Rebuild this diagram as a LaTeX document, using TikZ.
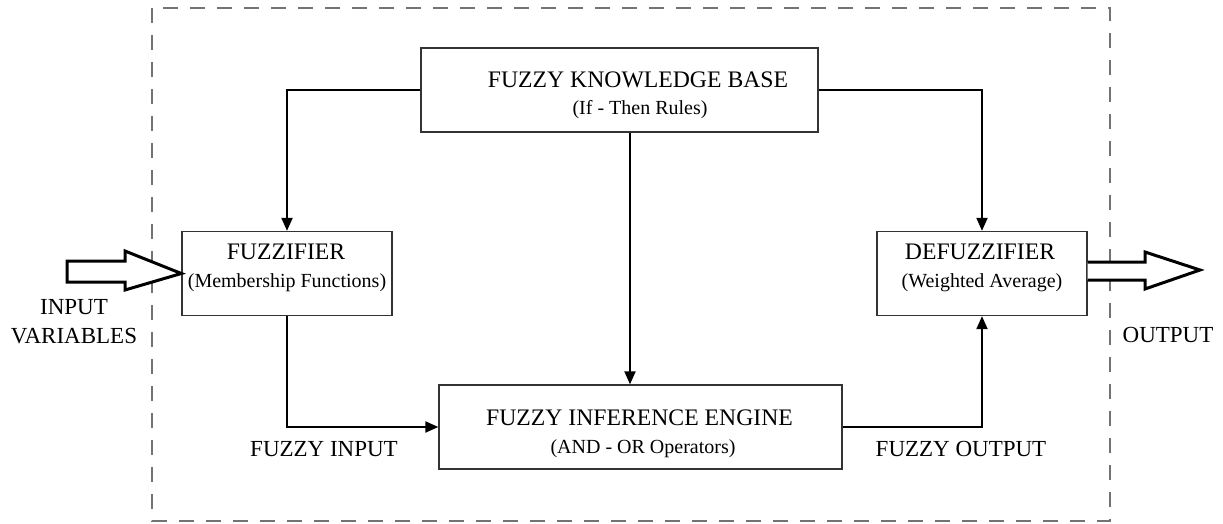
\documentclass[tikz,border=0pt]{standalone}
\usepackage{fontspec}
\setmainfont{Liberation Serif}
\usetikzlibrary{arrows.meta,calc}
\tikzset{
  blk/.style={draw=black!80, line width=1.3pt, fill=white, minimum height=84pt, inner sep=0pt},
  ttl/.style={font=\fontsize{23.7}{29}\selectfont, inner sep=0pt},
  sub/.style={font=\fontsize{20}{24}\selectfont, inner sep=0pt},
  conn/.style={line width=2pt, -{Triangle[length=13pt,width=11pt]}},
  bigarrow/.style={draw=black, line width=3pt, fill=white, line join=miter},
  lbl/.style={font=\fontsize{23}{29}\selectfont, align=center, inner sep=0pt},
  frame/.style={draw=black!55, line width=2pt, dash pattern=on 15pt off 12pt}
}
\begin{document}
\begin{tikzpicture}[x=1pt,y=-1pt]
\useasboundingbox (0,0) rectangle (1223,524);
\draw[frame] (152,8) rectangle (1110,521);

\node[blk, minimum width=397pt] (kb) at (619.5,90) {};
\node[blk, minimum width=210pt] (fz) at (287,273.5) {};
\node[blk, minimum width=210pt] (dz) at (982,273.5) {};
\node[blk, minimum width=403pt] (inf) at (640.5,427) {};

\node[ttl] (kbt) at (638,80) {FUZZY KNOWLEDGE BASE};
\node[sub] (kbs) at (640,110) {(If - Then Rules)};
\node[ttl] (fzt) at (286,252) {FUZZIFIER};
\node[sub] (fzs) at (287,283) {(Membership Functions)};
\node[ttl] (dzt) at (980,252) {DEFUZZIFIER};
\node[sub] (dzs) at (982,283) {(Weighted Average)};
\node[ttl] (inft) at (639.5,418) {FUZZY INFERENCE ENGINE};
\node[sub] (infs) at (643,449) {(AND - OR Operators)};

\coordinate (kbdown) at ($(kb.south)+(10.5,0)$);
\draw[conn] (kb.west) -| (fz.north);
\draw[conn] (kb.east) -| (dz.north);
\draw[conn] (kbdown) -- (kbdown |- inf.north);
\draw[conn] (fz.south) |- (inf.west);
\draw[conn] (inf.east) -| (dz.south);

% input block arrow
\draw[bigarrow] (67,261) -- (125,261) -- (125,251) -- (fz.west) -- (125,290) -- (125,282) -- (67,282) -- cycle;
% output block arrow
\draw[bigarrow] (dz.east |- 0,262) -- (1145,262) -- (1145,252) -- (1200,270) -- (1145,289) -- (1145,280) -- (dz.east |- 0,280);

\node[lbl] (inlbl) at (74,322) {INPUT\\VARIABLES};
\node[lbl] (outlbl) at (1168,335) {OUTPUT};
\node[lbl] (fin) at (324,449) {FUZZY INPUT};
\node[lbl] (fout) at (961,449) {FUZZY OUTPUT};
\end{tikzpicture}
\end{document}
